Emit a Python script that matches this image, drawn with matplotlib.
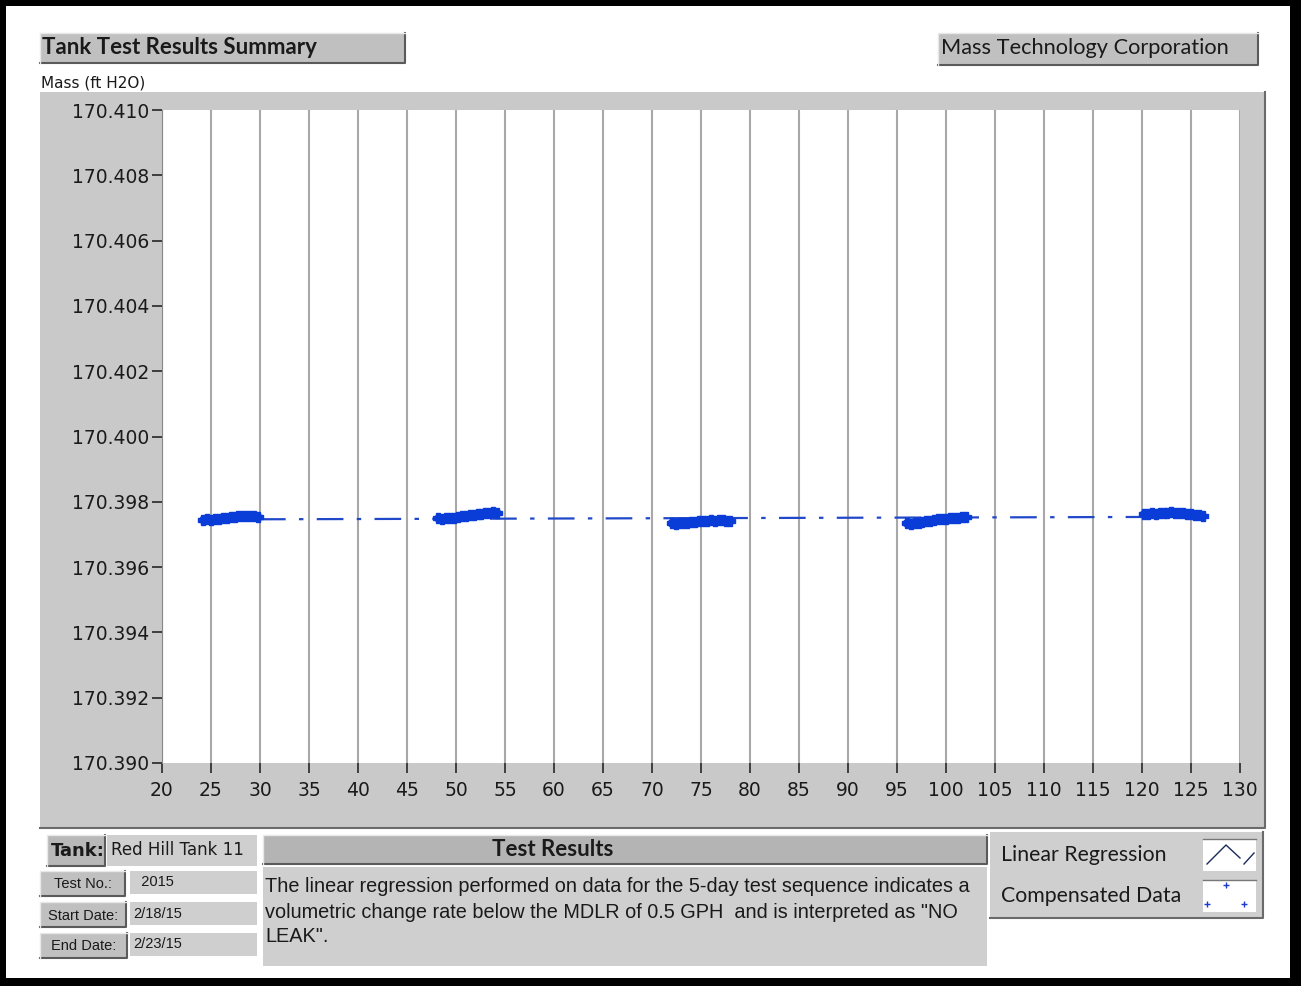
import matplotlib
matplotlib.use("Agg")
import matplotlib.pyplot as plt
from matplotlib.patches import Rectangle

# ---------------- data ----------------
x_ticks = list(range(20, 131, 5))
y_ticks = [170.390, 170.392, 170.394, 170.396, 170.398, 170.400,
           170.402, 170.404, 170.406, 170.408, 170.410]

c1_x = [24.2, 24.6, 25.0, 25.4, 25.8, 26.2, 26.6, 27.0, 27.4, 27.8, 28.2, 28.6, 29.0, 29.4, 29.8]
c1_y = [170.39744, 170.39746, 170.39745, 170.39748, 170.39747, 170.39750, 170.39751, 170.39753,
        170.39754, 170.39756, 170.39755, 170.39757, 170.39756, 170.39755, 170.39754]
c2_x = [48.2, 48.6, 49.0, 49.4, 49.8, 50.2, 50.6, 51.0, 51.4, 51.8, 52.2, 52.6, 53.0, 53.4, 53.8, 54.2]
c2_y = [170.39749, 170.39748, 170.39750, 170.39749, 170.39751, 170.39752, 170.39755, 170.39758,
        170.39760, 170.39761, 170.39763, 170.39764, 170.39766, 170.39767, 170.39768, 170.39766]
c3_x = [72.0, 72.4, 72.8, 73.2, 73.6, 74.0, 74.4, 74.8, 75.2, 75.6, 76.0, 76.4, 76.8, 77.2, 77.6, 78.0]
c3_y = [170.39734, 170.39733, 170.39735, 170.39734, 170.39736, 170.39737, 170.39738, 170.39740,
        170.39741, 170.39742, 170.39743, 170.39742, 170.39744, 170.39743, 170.39742, 170.39741]
c4_x = [96.0, 96.4, 96.8, 97.2, 97.6, 98.0, 98.4, 98.8, 99.2, 99.6, 100.0, 100.4, 100.8, 101.2, 101.6, 102.0]
c4_y = [170.39734, 170.39733, 170.39735, 170.39736, 170.39738, 170.39740, 170.39742, 170.39744,
        170.39746, 170.39747, 170.39748, 170.39749, 170.39751, 170.39750, 170.39752, 170.39753]
c5_x = [120.2, 120.6, 121.0, 121.4, 121.8, 122.2, 122.6, 123.0, 123.4, 123.8, 124.2, 124.6, 125.0, 125.4, 125.8, 126.2]
c5_y = [170.39762, 170.39764, 170.39765, 170.39764, 170.39766, 170.39767, 170.39766, 170.39768,
        170.39767, 170.39766, 170.39765, 170.39764, 170.39762, 170.39761, 170.39760, 170.39757]

reg_x = [24.0, 126.2]
reg_y = [170.39746, 170.39754]

W, H = 1301, 986
fig = plt.figure(figsize=(W / 100, H / 100), dpi=100)
fig.patch.set_facecolor("black")

# background canvas in pixel coordinates
bg = fig.add_axes([0, 0, 1, 1])
bg.set_xlim(0, W)
bg.set_ylim(H, 0)
bg.axis("off")

def box(x0, y0, x1, y1, fc, ec=None, lw=0, z=1):
    bg.add_patch(Rectangle((x0, y0), x1 - x0, y1 - y0, facecolor=fc,
                           edgecolor=ec if ec else fc, linewidth=lw, zorder=z))

def bevel(x0, y0, x1, y1, fc):
    box(x0, y0, x1, y1, fc)
    bg.plot([x0, x1, x1], [y1, y1, y0], color="#5a5a5a", lw=1.5, zorder=2)
    bg.plot([x0, x0, x1], [y1, y0, y0], color="#e8e8e8", lw=1.0, zorder=2)

# white interior
box(6, 6, 1290, 978, "white")

# header boxes
bevel(40, 33, 405, 63, "#c0c0c0")
bg.text(42, 48, "Tank Test Results Summary", fontsize=16, fontweight="bold",
        family="Lato", va="center", ha="left", color="#1a1a1a", zorder=3)
bevel(938, 33, 1258, 65, "#c0c0c0")
bg.text(941, 48, "Mass Technology Corporation", fontsize=15.7,
        family="Lato", va="center", ha="left", color="#1a1a1a", zorder=3)
bg.text(41, 83, "Mass (ft H2O)", fontsize=11, family="DejaVu Sans",
        va="center", ha="left", color="#1a1a1a", zorder=3)

# gray plot panel
box(40, 92, 1265, 828, "#c9c9c9")
bg.plot([40, 1265, 1265], [828, 828, 92], color="#6a6a6a", lw=1.5, zorder=2)

# bottom info panel
bevel(47, 835, 105, 866, "#b8b8b8")
bg.text(51, 851, "Tank:", fontsize=13, fontweight="bold", family="DejaVu Sans",
        va="center", ha="left", color="#1a1a1a", zorder=3)
box(107, 835, 257, 866, "#cfcfcf")
bg.text(111, 850, "Red Hill Tank 11", fontsize=12, family="DejaVu Sans",
        va="center", ha="left", color="#1a1a1a", zorder=3)

rows = [("Test No.:", "  2015", 871, 896, 125),
        ("Start Date:", "2/18/15", 902, 927, 126),
        ("End Date:", "2/23/15", 933, 958, 127)]
for lab, val, y0, y1, xr in rows:
    bevel(40, y0, xr, y1, "#c0c0c0")
    bg.text((40 + xr) / 2, (y0 + y1) / 2 + 1, lab, fontsize=10.5, family="Liberation Sans",
            va="center", ha="center", color="#1a1a1a", zorder=3)
    box(130, y0, 257, y1 - 2, "#cfcfcf")
    bg.text(133, (y0 + y1) / 2 - 1, val, fontsize=10.5, family="Liberation Sans",
            va="center", ha="left", color="#1a1a1a", zorder=3)

bevel(263, 835, 987, 864, "#b4b4b4")
bg.text(553, 849, "Test Results", fontsize=16, fontweight="bold", family="Lato",
        va="center", ha="center", color="#1a1a1a", zorder=3)
box(263, 867, 987, 966, "#cfcfcf")
msg_lines = ['The linear regression performed on data for the 5-day test sequence indicates a',
             'volumetric change rate below the MDLR of 0.5 GPH  and is interpreted as "NO',
             'LEAK".']
for i, line in enumerate(msg_lines):
    bg.text(265, 887 + 25 * i, line, fontsize=14.3, family="Liberation Sans",
            va="center", ha="left", color="#1a1a1a", zorder=3)

# legend panel
box(990, 832, 1263, 918, "#cfcfcf")
bg.plot([990, 1263, 1263], [918, 918, 832], color="#6a6a6a", lw=1.5, zorder=2)
bg.text(1001, 855, "Linear Regression", fontsize=15.3, family="Lato",
        va="center", ha="left", color="#1a1a1a", zorder=3)
bg.text(1001, 896, "Compensated Data", fontsize=15.3, family="Lato",
        va="center", ha="left", color="#1a1a1a", zorder=3)
box(1203, 839, 1256, 871, "white")
box(1203, 880, 1256, 912, "white")
bg.plot([1203, 1256], [839, 839], color="#777777", lw=1, zorder=2)
bg.plot([1203, 1256], [880, 880], color="#777777", lw=1, zorder=2)
bg.plot([1207, 1226, 1240], [864, 845, 858], color="#1a2a5a", lw=1, zorder=3)
bg.plot([1244, 1254], [864, 853], color="#1a2a5a", lw=1, zorder=3)
bg.plot([1207, 1226, 1244], [904, 885, 904], ls="none", marker="+", ms=4,
        color="#1a3ad0", zorder=3)

# ---------------- plot axes ----------------
x0p, x1p, y0p, y1p = 162, 1240, 110, 763
ax = fig.add_axes([x0p / W, 1 - y1p / H, (x1p - x0p) / W, (y1p - y0p) / H])
ax.set_facecolor("white")
ax.set_xlim(20, 130)
ax.set_ylim(170.390, 170.410)
ax.set_xticks(x_ticks)
ax.set_yticks(y_ticks)
ax.set_xticklabels([str(v) for v in x_ticks])
ax.set_yticklabels(["%.3f" % v for v in y_ticks])
ax.grid(axis="x", color="#a8a8a8", lw=1.5)
ax.set_axisbelow(True)
for s in ax.spines.values():
    s.set_visible(False)
ax.spines["left"].set_visible(True)
ax.spines["left"].set_color("#888888")
ax.tick_params(axis="both", direction="out", length=7, width=1.3, color="#333333",
               labelsize=13.5, labelcolor="#1a1a1a")
ax.tick_params(axis="x", pad=6)
ax.tick_params(axis="y", pad=2)
for lab in ax.get_xticklabels() + ax.get_yticklabels():
    lab.set_family("DejaVu Sans")

ax.plot(reg_x, reg_y, color="#2048c8", lw=1.6, ls=(0, (12, 6, 2, 6)), zorder=2)
for cx, cy in [(c1_x, c1_y), (c2_x, c2_y), (c3_x, c3_y), (c4_x, c4_y), (c5_x, c5_y)]:
    ax.plot(cx, cy, color="#0a3cd8", lw=6, marker="P", ms=6.5, zorder=3,
            solid_capstyle="round")

fig.savefig("out.png", dpi=100, facecolor="black")
